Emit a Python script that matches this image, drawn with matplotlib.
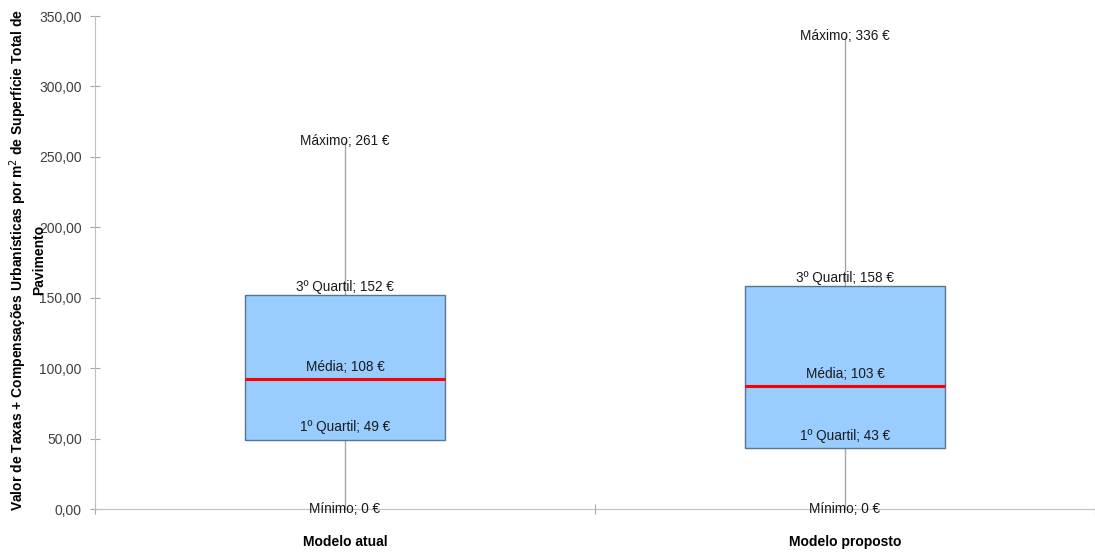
import matplotlib.pyplot as plt
from matplotlib.ticker import FuncFormatter, FixedLocator

# Estatísticas por modelo (€/m²)
categorias = ["Modelo atual", "Modelo proposto"]
minimos = [0, 0]
quartil1 = [49, 43]
medianas = [92, 87]
medias = [108, 103]
quartil3 = [152, 158]
maximos = [261, 336]

plt.rcParams['font.family'] = ['Liberation Sans', 'DejaVu Sans']

fig = plt.figure(figsize=(10.95, 5.54), dpi=100)
ax = fig.add_axes([0.0868, 0.0812, 0.9132, 0.8899])

x = list(range(len(categorias)))
largura = 0.4

# bigodes (mínimo -> máximo)
ax.vlines(x, minimos, maximos, color='#a6a6a6', lw=1, zorder=1)

# caixas entre 1º e 3º quartil
alturas = [b - a for a, b in zip(quartil1, quartil3)]
ax.bar(x, alturas, bottom=quartil1, width=largura, color='#99ccff',
       edgecolor='#5a7390', linewidth=1, zorder=2)

# linha central
ax.hlines(medianas, [i - largura / 2 for i in x], [i + largura / 2 for i in x],
          color='#ff0000', lw=2.2, zorder=3)

txt = dict(ha='center', va='center', fontsize=9.8, color='#1a1a1a', zorder=5)
for i in x:
    ax.annotate(f"Máximo; {maximos[i]} €", (i, maximos[i]), **txt)
    ax.annotate(f"3º Quartil; {quartil3[i]} €", (i, quartil3[i]),
                xytext=(0, 6), textcoords='offset points', **txt)
    ax.annotate(f"Média; {medias[i]} €", (i, medias[i]),
                xytext=(0, -7.5), textcoords='offset points', **txt)
    ax.annotate(f"1º Quartil; {quartil1[i]} €", (i, quartil1[i]),
                xytext=(0, 9), textcoords='offset points', **txt)
    ax.annotate(f"Mínimo; {minimos[i]} €", (i, minimos[i]), **txt)

ax.set_xlim(-0.5, 1.5)
ax.set_ylim(0, 350)
ax.set_yticks(range(0, 351, 50))
ax.yaxis.set_major_formatter(FuncFormatter(lambda v, p: f"{v:.2f}".replace('.', ',')))

ax.xaxis.set_major_locator(FixedLocator([-0.5, 0.5, 1.5]))
ax.set_xticklabels([])
ax.xaxis.set_minor_locator(FixedLocator(x))
ax.set_xticklabels(categorias, minor=True, fontweight='bold', fontsize=10)
ax.tick_params(axis='x', which='minor', length=0, pad=19)
ax.tick_params(axis='x', which='major', direction='inout', length=7, color='#a6a6a6')
ax.tick_params(axis='y', direction='inout', length=7, color='#a6a6a6',
               labelsize=10, labelcolor='#404040', pad=6)

for s in ['top', 'right']:
    ax.spines[s].set_visible(False)
for s in ['left', 'bottom']:
    ax.spines[s].set_color('#bfbfbf')

fig.text(0.0247, 0.531,
         "Valor de Taxas + Compensações Urbanísticas por m$^2$ de Superfície Total de\nPavimento",
         rotation=90, ha='center', va='center', fontsize=10, fontweight='bold',
         linespacing=1.25)

fig.savefig('out.png', dpi=100)
